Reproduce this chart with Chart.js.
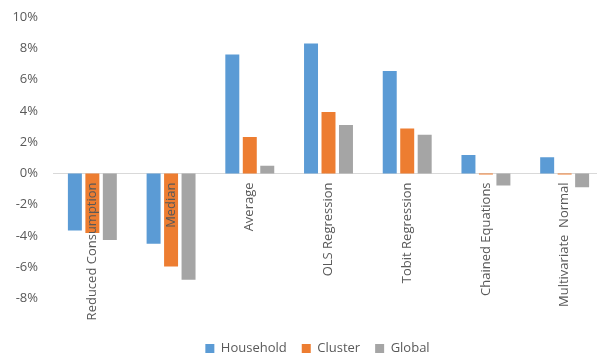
<!DOCTYPE html>
<html>
<head>
<meta charset="utf-8">
<script src="https://cdn.jsdelivr.net/npm/chart.js@4"></script>
<style>
    html, body { margin: 0; padding: 0; background: #ffffff; }
    #wrap { width: 597px; height: 356px; position: relative; }
</style>
</head>
<body>
<div id="wrap"><canvas id="chart"></canvas></div>
<script>
// categories and series (percent)
const categories = ['Reduced Consumption', 'Median', 'Average', 'OLS Regression',
    'Tobit Regression', 'Chained Equations', 'Multivariate  Normal'];
const household = [-3.65, -4.5, 7.6, 8.3, 6.55, 1.18, 1.03];
const cluster = [-3.8, -5.95, 2.33, 3.92, 2.87, -0.06, -0.06];
const global = [-4.25, -6.8, 0.49, 3.09, 2.48, -0.77, -0.88];
const yTicks = [-8, -6, -4, -2, 0, 2, 4, 6, 8, 10];

const COLORS = {
    household: '#5B9BD5',
    cluster: '#ED7D31',
    global: '#A5A5A5',
    text: '#595959',
    axis: '#D9D9D9'
};

const FONT = "'Open Sans', sans-serif";

// original is cropped: plot runs a few px past the right edge,
// and the legend sits a bit right of centre
const layoutTweak = {
    id: 'layoutTweak',
    afterLayout(chart) {
        const x = chart.scales.x;
        x.right += 7;
        x.width += 7;
        x.configure();
        chart.legend.left += 19;
        chart.legend.right += 19;
    }
};

new Chart(document.getElementById('chart'), {
    type: 'bar',
    data: {
        labels: categories,
        datasets: [
            { label: 'Household', data: household, backgroundColor: COLORS.household },
            { label: 'Cluster', data: cluster, backgroundColor: COLORS.cluster },
            { label: 'Global', data: global, backgroundColor: COLORS.global }
        ]
    },
    options: {
        responsive: true,
        maintainAspectRatio: false,
        animation: false,
        categoryPercentage: 0.666,
        barPercentage: 0.8,
        layout: { padding: { top: 17, left: 0, right: 0, bottom: -9 } },
        plugins: {
            tooltip: { enabled: false },
            legend: {
                position: 'bottom',
                title: { display: true, text: ' ', padding: { top: 14, bottom: 0 } },
                labels: {
                    color: COLORS.text,
                    boxWidth: 9,
                    boxHeight: 9,
                    padding: 15,
                    font: { family: FONT, size: 13 }
                }
            }
        },
        scales: {
            x: {
                position: { y: 0 },
                grid: { display: false, drawTicks: false },
                border: { display: true, color: COLORS.axis, width: 1 },
                ticks: {
                    z: 1,
                    color: COLORS.text,
                    font: { family: FONT, size: 13 },
                    autoSkip: false,
                    minRotation: 90,
                    maxRotation: 90,
                    padding: 9
                }
            },
            y: {
                min: -8,
                max: 10,
                afterBuildTicks: (scale) => {
                    scale.ticks = yTicks.map(v => ({ value: v }));
                },
                afterFit: (scale) => {
                    scale.width = 53;
                    scale.paddingTop = 0;
                    scale.paddingBottom = 0;
                },
                grid: { display: false, drawTicks: false },
                border: { display: false },
                ticks: {
                    color: COLORS.text,
                    font: { family: FONT, size: 13 },
                    padding: 15,
                    callback: (v) => v + '%'
                }
            }
        }
    },
    plugins: [layoutTweak]
});
</script>
</body>
</html>
